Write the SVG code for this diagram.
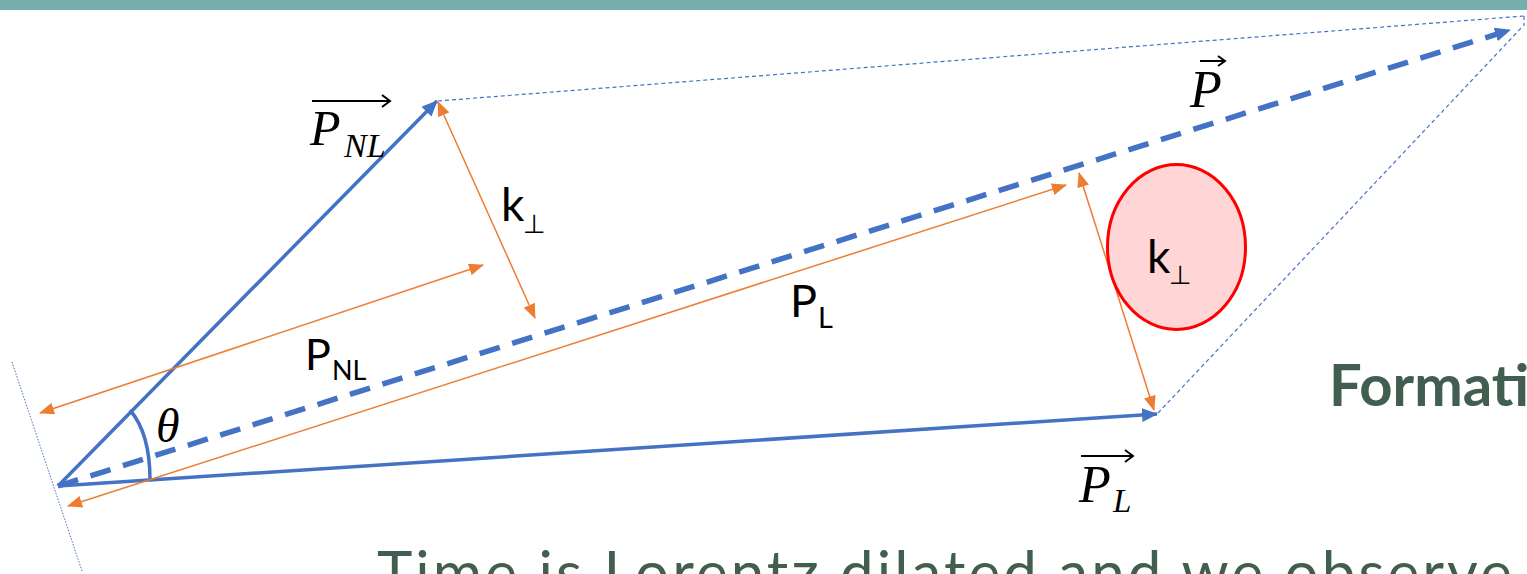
<svg xmlns="http://www.w3.org/2000/svg" width="1527" height="574" viewBox="0 0 1527 574">
<defs>
<style>
.vec{stroke:#4472C4;stroke-width:3.5;fill:none}
.pdash{stroke:#4472C4;stroke-width:5.5;fill:none;stroke-dasharray:21 13}
.thin{stroke:#4472C4;stroke-width:1.2;fill:none;stroke-dasharray:4 3}
.dot{stroke:#4472C4;stroke-width:1;fill:none;stroke-dasharray:1.5 1.5}
.or{stroke:#ED7D31;stroke-width:1.5;fill:none}
.math{font-family:"Liberation Serif","Times New Roman",serif;font-style:italic;fill:#000}
.sans{font-family:Lato,"Open Sans","Liberation Sans",sans-serif;fill:#000}
.perp{font-family:"DejaVu Sans",sans-serif;fill:#000}
.ov{stroke:#000;stroke-width:2;fill:none}
.green{font-family:Lato,"Open Sans","Liberation Sans",sans-serif;fill:#415E50}
</style>
<marker id="ab" viewBox="0 0 16 14" refX="15" refY="7" markerWidth="16" markerHeight="14" markerUnits="userSpaceOnUse" orient="auto">
<path d="M0,0 L16,7 L0,14 Z" fill="#4472C4"/>
</marker>
<marker id="ao" viewBox="0 0 15 12" refX="14" refY="6" markerWidth="15" markerHeight="12" markerUnits="userSpaceOnUse" orient="auto-start-reverse">
<path d="M0,0 L15,6 L0,12 Z" fill="#ED7D31"/>
</marker>
</defs>
<rect id="topbar" x="0" y="0" width="1527" height="10" fill="#75AFAB"/>
<g id="connectors">
<line class="thin" x1="438" y1="101" x2="1524" y2="16"/>
<line class="thin" x1="1524" y1="16" x2="1524" y2="26"/>
<line class="thin" x1="1158" y1="413" x2="1523" y2="26"/>
<line class="dot" x1="12" y1="362" x2="82" y2="571"/>
<line class="pdash" x1="58" y1="486" x2="1510" y2="30" marker-end="url(#ab)"/>
<line class="vec" x1="58" y1="486" x2="437" y2="101" marker-end="url(#ab)"/>
<line class="vec" x1="58" y1="486" x2="1157" y2="414" marker-end="url(#ab)"/>
<path class="vec" d="M130,410 C142,424 150,445 150,480"/>
<line class="or" x1="40" y1="413" x2="483" y2="265" marker-start="url(#ao)" marker-end="url(#ao)"/>
<line class="or" x1="68" y1="506" x2="1066" y2="185" marker-start="url(#ao)" marker-end="url(#ao)"/>
<line class="or" x1="438" y1="102" x2="535" y2="318" marker-start="url(#ao)" marker-end="url(#ao)"/>
<line class="or" x1="1079" y1="173" x2="1154" y2="410" marker-start="url(#ao)" marker-end="url(#ao)"/>
</g>
<g id="blob">
<ellipse cx="1176.5" cy="247" rx="69" ry="82.5" fill="#FFD5D5" stroke="#FF0000" stroke-width="3"/>
<text class="sans" x="1147" y="273" font-size="46" fill="#1a0000">k</text>
<text class="perp" x="1169" y="284" font-size="26">⊥</text>
</g>
<g id="label-PNL-vec">
<text class="math" x="310" y="145" font-size="50">P</text>
<text class="math" x="344" y="157" font-size="34">NL</text>
<line class="ov" x1="312" y1="101" x2="389" y2="101"/>
<polyline class="ov" points="382,95 390,101 382,107"/>
</g>
<g id="label-P-vec">
<text class="math" x="1190" y="107" font-size="52">P</text>
<line class="ov" x1="1200" y1="61" x2="1224" y2="61"/>
<polyline class="ov" points="1218,56 1225,61 1218,66"/>
</g>
<g id="label-PL-vec">
<text class="math" x="1079" y="502" font-size="52">P</text>
<text class="math" x="1113" y="512" font-size="33">L</text>
<line class="ov" x1="1081" y1="456" x2="1132" y2="456"/>
<polyline class="ov" points="1125,450 1133,456 1125,462"/>
</g>
<g id="label-theta">
<text class="math" x="156" y="442" font-size="48">θ</text>
</g>
<g id="label-k1">
<text class="sans" x="501" y="221" font-size="46">k</text>
<text class="perp" x="523" y="233" font-size="26">⊥</text>
</g>
<g id="label-PNL">
<text class="sans" x="305" y="370" font-size="43">P</text>
<text class="sans" x="332" y="380" font-size="27">NL</text>
</g>
<g id="label-PL">
<text class="sans" x="790" y="317" font-size="45">P</text>
<text class="sans" x="818" y="328" font-size="29">L</text>
</g>
<text class="green" x="1329" y="406" font-size="58" font-weight="bold">Formati</text>
<text class="green" x="377" y="594" font-size="60" textLength="1135" lengthAdjust="spacing">Time is Lorentz dilated and we observe</text>
</svg>
